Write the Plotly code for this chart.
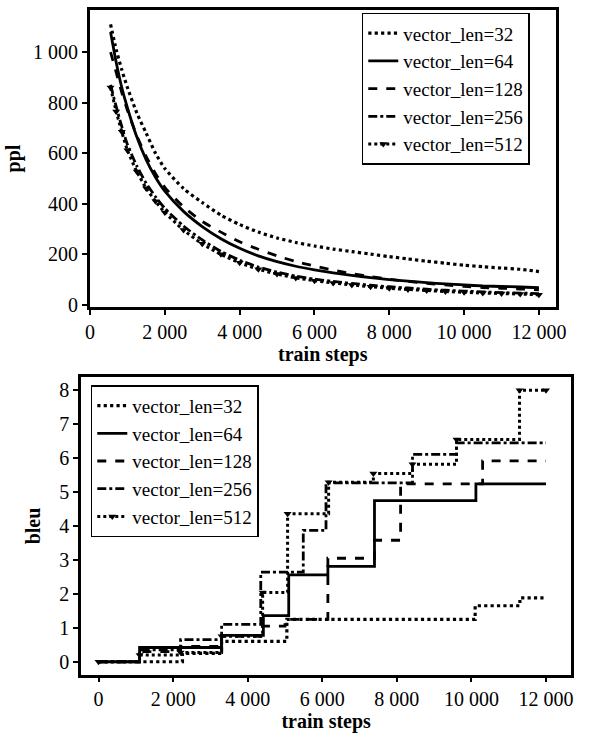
import plotly.graph_objects as go

# ---------------- data ----------------
STEPS = [550, 700, 850, 1000, 1250, 1500, 1750, 2000, 2500, 3000, 3500, 4000, 4500, 5000,
         5500, 6000, 6500, 7000, 7500, 8000, 8500, 9000, 9500, 10000, 10500, 11000, 11500, 12000]
ppl_32 = [1110, 1010, 930, 860, 760, 680, 600, 540, 460, 405, 355, 318, 288, 265,
          247, 233, 221, 211, 201, 191, 182, 173, 165, 157, 151, 146, 141, 132]
ppl_64 = [1080, 960, 860, 780, 665, 575, 505, 450, 370, 310, 262, 224, 194, 171,
          153, 139, 127, 117, 108, 100, 94, 88, 83, 79, 75, 73, 71, 68]
ppl_128 = [1000, 920, 840, 770, 670, 588, 520, 465, 388, 330, 288, 250, 220, 194,
           172, 154, 138, 124, 112, 102, 93, 85, 79, 73, 69, 66, 63, 60]
ppl_256 = [870, 785, 705, 635, 550, 482, 428, 382, 312, 257, 212, 177, 150, 130,
           114, 102, 93, 85, 78, 72, 67, 62, 58, 55, 52, 49, 47, 45]
ppl_512 = [860, 765, 685, 612, 528, 462, 410, 366, 296, 242, 200, 167, 141, 122,
           107, 96, 87, 79, 72, 66, 61, 57, 53, 50, 47, 45, 43, 40]

bleu_32_x = [0, 2250, 3300, 5050, 10100, 11300, 12000]
bleu_32_y = [0, 0.25, 0.6, 1.25, 1.65, 1.88, 1.88]
bleu_64_x = [0, 1100, 3300, 4420, 5100, 6150, 7400, 10120, 12000]
bleu_64_y = [0, 0.42, 0.78, 1.36, 2.56, 2.81, 4.75, 5.24, 5.24]
bleu_128_x = [0, 1100, 2200, 3300, 4350, 5000, 6150, 7400, 8100, 10300, 12000]
bleu_128_y = [0, 0.3, 0.45, 0.75, 1.05, 1.25, 3.05, 3.58, 5.24, 5.92, 5.92]
bleu_256_x = [0, 1100, 2200, 3300, 4350, 5490, 6100, 8420, 9600, 12000]
bleu_256_y = [0, 0.35, 0.65, 1.1, 2.64, 3.87, 5.27, 6.11, 6.45, 6.45]
bleu_512_x = [0, 1100, 2200, 3300, 4400, 5070, 6170, 7370, 8420, 9600, 11290, 12000]
bleu_512_y = [0, 0.2, 0.27, 0.75, 2.04, 4.36, 5.29, 5.55, 5.82, 6.55, 8.0, 8.0]

NAMES = ["vector_len=32", "vector_len=64", "vector_len=128", "vector_len=256", "vector_len=512"]
X_TICKS = [0, 2000, 4000, 6000, 8000, 10000, 12000]
PPL_TICKS = [0, 200, 400, 600, 800, 1000]
BLEU_TICKS = [0, 1, 2, 3, 4, 5, 6, 7, 8]

# ---------------- styles ----------------
FONT = "Liberation Serif"
W, H = 595, 738
styles = [
    dict(dash="dot", mode="lines", symbol=None, width=3.2),
    dict(dash="solid", mode="lines", symbol=None, width=2.8),
    dict(dash="dash", mode="lines", symbol=None, width=2.8),
    dict(dash="dashdot", mode="lines", symbol=None, width=2.8),
    dict(dash="dot", mode="lines+markers", symbol="triangle-down", width=3.0),
]

fig = go.Figure()

ppl_series = [ppl_32, ppl_64, ppl_128, ppl_256, ppl_512]
for name, ys, st in zip(NAMES, ppl_series, styles):
    kw = dict(x=STEPS, y=ys, name=name, mode=st["mode"], xaxis="x", yaxis="y",
              legend="legend",
              line=dict(color="black", width=st["width"], dash=st["dash"],
                        shape="spline", smoothing=0.6))
    if st["symbol"]:
        kw["marker"] = dict(symbol=st["symbol"], size=7, color="black")
    fig.add_trace(go.Scatter(**kw))

bleu_series = [(bleu_32_x, bleu_32_y), (bleu_64_x, bleu_64_y), (bleu_128_x, bleu_128_y),
               (bleu_256_x, bleu_256_y), (bleu_512_x, bleu_512_y)]
for name, (xs, ys), st in zip(NAMES, bleu_series, styles):
    kw = dict(x=xs, y=ys, name=name, mode=st["mode"], xaxis="x2", yaxis="y2",
              legend="legend2",
              line=dict(color="black", width=st["width"], dash=st["dash"], shape="hv"))
    if st["symbol"]:
        kw["marker"] = dict(symbol=st["symbol"], size=7, color="black")
    fig.add_trace(go.Scatter(**kw))

axis_common = dict(
    showline=True, linecolor="black", linewidth=2.5, mirror=True,
    ticks="outside", ticklen=5, tickwidth=2, tickcolor="black",
    showgrid=False, zeroline=False,
    tickfont=dict(family=FONT, size=20, color="black"),
)
title_font = dict(family=FONT, size=20, color="black")
legend_common = dict(xanchor="left", yanchor="top",
                     bgcolor="white", bordercolor="black", borderwidth=1.5,
                     font=dict(family=FONT, size=19, color="black"),
                     itemwidth=30, tracegroupgap=0,
                     entrywidth=150, entrywidthmode="pixels")

fig.update_layout(
    width=W, height=H,
    margin=dict(l=0, r=0, t=0, b=0),
    paper_bgcolor="white", plot_bgcolor="white",
    separators=". ",
    font=dict(family=FONT, color="black"),
    xaxis=dict(domain=[87 / W, 565 / W], anchor="y", range=[-5, 12450],
               tickvals=X_TICKS, tickformat=",d",
               title=dict(text="<b>train steps</b>", font=title_font, standoff=2),
               **axis_common),
    yaxis=dict(domain=[1 - 311 / H, 1 - 10 / H], anchor="x", range=[-9, 1167],
               tickvals=PPL_TICKS, tickformat=",d",
               title=dict(text="<b>ppl</b>", font=title_font, standoff=8),
               **axis_common),
    xaxis2=dict(domain=[78 / W, 581 / W], anchor="y2", range=[-470, 12680],
                tickvals=X_TICKS, tickformat=",d",
                title=dict(text="<b>train steps</b>", font=title_font, standoff=2),
                **axis_common),
    yaxis2=dict(domain=[1 - 683 / H, 1 - 382 / H], anchor="x2", range=[-0.38, 8.38],
                tickvals=BLEU_TICKS,
                title=dict(text="<b>bleu</b>", font=title_font, standoff=14),
                **axis_common),
    legend=dict(x=366 / W, y=1 - 13 / H, **legend_common),
    legend2=dict(x=88 / W, y=1 - 390 / H, **legend_common),
    showlegend=True,
)

fig.write_html("out.html")
